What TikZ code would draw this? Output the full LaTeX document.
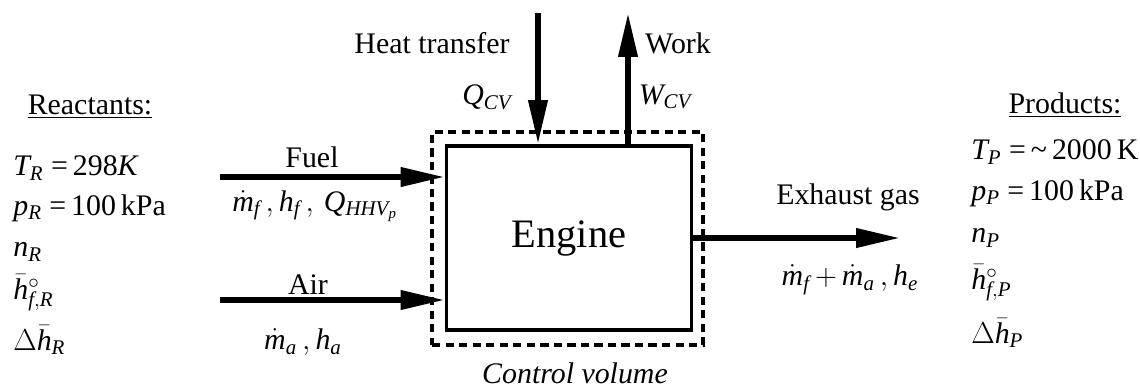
\documentclass[tikz,border=0pt]{standalone}
\usepackage{fontspec}
\setmainfont{Liberation Serif}
\usetikzlibrary{arrows.meta}
\newcommand{\mi}[1]{\mathit{#1}}
\begin{document}
\begin{tikzpicture}[x=0.02cm,y=-0.02cm,
  every node/.style={inner sep=0pt, font=\fontsize{17}{20}\selectfont},
  flow/.style={line width=3.2pt, -{Triangle[length=25pt,width=10.5pt]}},
  lbl/.style={anchor=west},
  enginebox/.style={draw, line width=2.2pt, minimum width=4.9cm, minimum height=3.68cm, font=\fontsize{23}{26}\selectfont},
  cvbox/.style={draw, line width=1.9pt, dash pattern=on 4.7pt off 3pt, minimum width=5.42cm, minimum height=4.26cm}]
\useasboundingbox (0,0) rectangle (1140,387);

% boxes
\node[cvbox] (cv) at (567.5,238.5) {};
\node[enginebox] (engine) at (569,238) {Engine};
\node[font=\fontsize{17}{20}\selectfont\itshape] (cvl) at (575,373) {Control volume};

% reactants
\node (react) at (90,107) {\underline{Reactants:}};
\node[lbl] (r1) at (13,168) {$\mi{T}_{\mi{R}}$ =\,298\textit{K}};
\node[lbl] (r2) at (13,208) {$\mi{p}_{\mi{R}}$ =\,100\,kPa};
\node[lbl] (r3) at (13,252) {$\mi{n}_{\mi{R}}$};
\node[lbl] (r4) at (13,293) {$\bar{\mi{h}}^{\circ}_{\mi{f,R}}$};
\node[lbl] (r5) at (13,340) {$\Delta\bar{\mi{h}}_{\mi{R}}$};

% products
\node (prod) at (1065,105) {\underline{Products:}};
\node[lbl] (p1) at (971,152) {$\mi{T}_{\mi{P}}$ =\,\textasciitilde\,2000\,K};
\node[lbl] (p2) at (971,193) {$\mi{p}_{\mi{P}}$ =\,100\,kPa};
\node[lbl] (p3) at (971,238) {$\mi{n}_{\mi{P}}$};
\node[lbl] (p4) at (971,283) {$\bar{\mi{h}}^{\circ}_{\mi{f,P}}$};
\node[lbl] (p5) at (971,333) {$\Delta\bar{\mi{h}}_{\mi{P}}$};

% fuel
\coordinate (fuelS) at (220,177);
\draw[flow] (fuelS) -- (engine.west |- fuelS);
\node (fuel) at (312,157) {Fuel};
\node (fuell) at (315,206) {$\dot{\mi{m}}_{\mi{f}}\,,\mi{h}_{\mi{f}}\,,\,\mi{Q}_{\mi{HHV}_{\mi{p}}}$};

% air
\coordinate (airS) at (220,300);
\draw[flow] (airS) -- (engine.west |- airS);
\node (air) at (308,285) {Air};
\node (airl) at (303,342) {$\dot{\mi{m}}_{\mi{a}}\,,\mi{h}_{\mi{a}}$};

% heat
\coordinate (heatS) at (538,13);
\draw[flow] (heatS) -- (heatS |- engine.north);
\node (heat) at (432,43) {Heat transfer};
\node (qcv) at (487,97) {$\mi{Q}_{\mi{CV}}$};

% work
\coordinate (workT) at (628,13);
\draw[flow] (workT |- engine.north) -- (workT);
\node (work) at (678,43) {Work};
\node (wcv) at (665,97) {$\mi{W}_{\mi{CV}}$};

% exhaust
\coordinate (exT) at (900,238);
\draw[flow] (engine.east |- exT) -- (exT);
\node (exh) at (848,197) {Exhaust gas};
\node (exl) at (850,280) {$\dot{\mi{m}}_{\mi{f}}\,{+}\,\dot{\mi{m}}_{\mi{a}}\,,\mi{h}_{\mi{e}}$};
\end{tikzpicture}
\end{document}
